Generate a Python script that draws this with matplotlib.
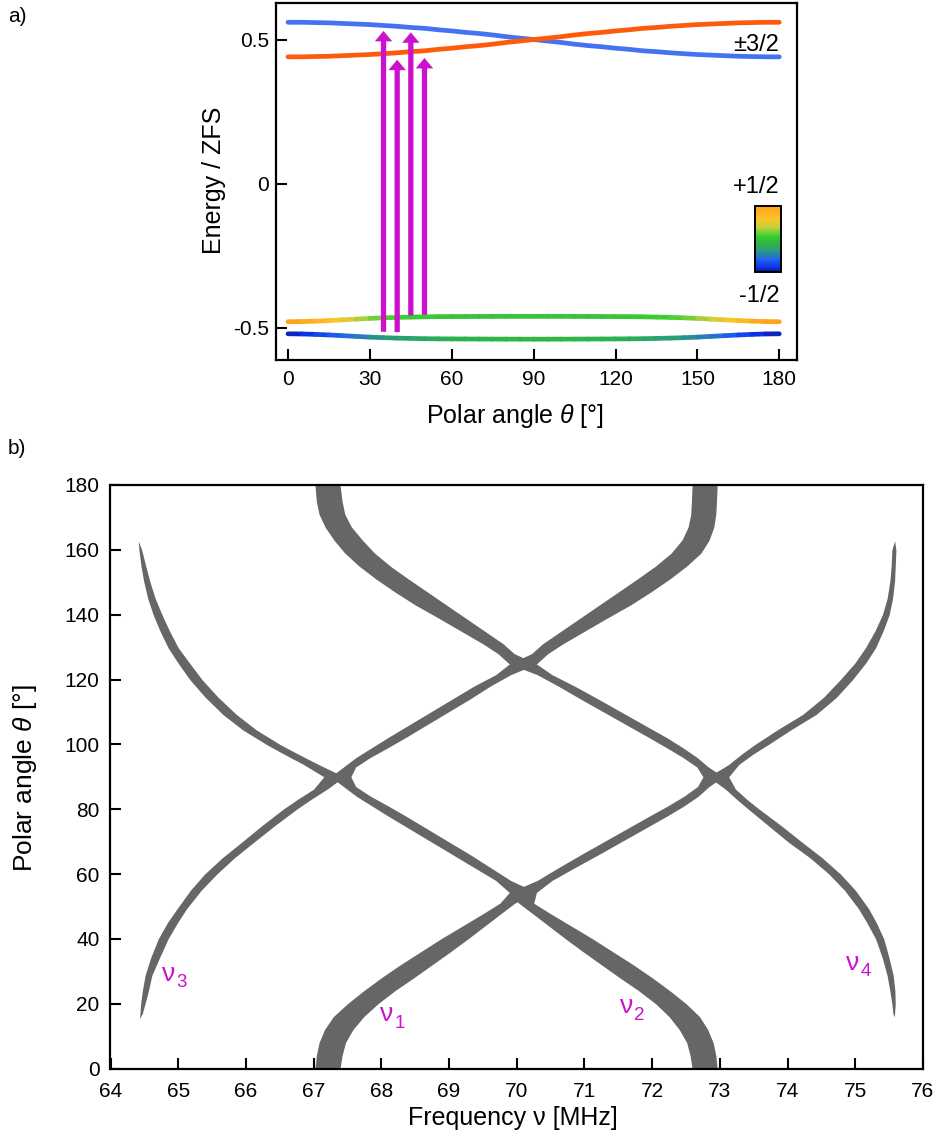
import numpy as np
import matplotlib
matplotlib.use('Agg')
import matplotlib.pyplot as plt
from matplotlib.collections import LineCollection
from matplotlib.colors import LinearSegmentedColormap, Normalize
from matplotlib.patches import FancyArrowPatch
import matplotlib.cm as cm

plt.rcParams['font.family'] = ['Liberation Sans', 'DejaVu Sans']
plt.rcParams['mathtext.fontset'] = 'custom'
plt.rcParams['mathtext.rm'] = 'Liberation Sans'
plt.rcParams['mathtext.it'] = 'Liberation Sans:italic'
plt.rcParams['axes.unicode_minus'] = False

# ---------------- panel a data ----------------
theta_a = list(range(0, 181, 5))
E_blue = [0.561, 0.561, 0.560, 0.559, 0.557, 0.555, 0.553, 0.550, 0.547, 0.543, 0.540,
          0.535, 0.531, 0.526, 0.522, 0.517, 0.511, 0.506, 0.501, 0.496, 0.491, 0.485,
          0.480, 0.476, 0.471, 0.467, 0.462, 0.459, 0.455, 0.452, 0.449, 0.447, 0.445,
          0.443, 0.442, 0.441, 0.441]
E_orange = E_blue[::-1]
E_low_up = [-0.479, -0.4785, -0.477, -0.475, -0.4725, -0.470, -0.4675, -0.4655, -0.464,
            -0.463, -0.462, -0.4615, -0.4612, -0.4610, -0.4608, -0.4606, -0.4605, -0.4604,
            -0.4604, -0.4604, -0.4605, -0.4606, -0.4608, -0.4610, -0.4612, -0.4615, -0.462,
            -0.463, -0.464, -0.4655, -0.4675, -0.470, -0.4725, -0.475, -0.477, -0.4785,
            -0.479]
E_low_dn = [-0.521, -0.5215, -0.523, -0.525, -0.5275, -0.530, -0.5325, -0.5345, -0.536,
            -0.537, -0.538, -0.5385, -0.5388, -0.5390, -0.5392, -0.5394, -0.5395, -0.5396,
            -0.5396, -0.5396, -0.5395, -0.5394, -0.5392, -0.5390, -0.5388, -0.5385, -0.538,
            -0.537, -0.536, -0.5345, -0.5325, -0.530, -0.5275, -0.525, -0.523, -0.5215,
            -0.521]
ms_low_up = [0.50, 0.48, 0.42, 0.34, 0.26, 0.18, 0.12, 0.08, 0.05, 0.03, 0.02, 0.01, 0.0,
             0.0, 0.0, 0.0, 0.0, 0.0, 0.0, 0.0, 0.0, 0.0, 0.0, 0.0, 0.0, 0.01, 0.02, 0.03,
             0.05, 0.08, 0.12, 0.18, 0.26, 0.34, 0.42, 0.48, 0.50]
ms_low_dn = [-0.47, -0.45, -0.41, -0.36, -0.31, -0.26, -0.22, -0.19, -0.16, -0.14, -0.12,
             -0.10, -0.09, -0.08, -0.07, -0.065, -0.06, -0.06, -0.06, -0.06, -0.06, -0.065,
             -0.07, -0.08, -0.09, -0.10, -0.12, -0.14, -0.16, -0.19, -0.22, -0.26, -0.31,
             -0.36, -0.41, -0.45, -0.47]
arrow_theta = [35, 40, 45, 50]
arrow_start = [-0.514, -0.515, -0.457, -0.455]
arrow_end = [0.531, 0.431, 0.526, 0.437]
cbar_colors = ['#0a1478', '#0a30e0', '#2060f0', '#2a9a80', '#30b840', '#3cd030',
               '#c8d040', '#fbc42a', '#ffa21e']
cbar_pos = [0.0, 0.06, 0.18, 0.32, 0.45, 0.55, 0.68, 0.8, 1.0]

# ---------------- panel b data (band edges, MHz) ----------------
nu1_theta = [0, 4, 8, 12, 16, 20, 24, 28, 32, 36, 40, 44, 48, 51, 54.3,
             58, 62, 66, 70, 74, 78, 81, 84, 87, 90,
             93, 96, 99, 102, 106, 110, 114, 118, 121.5, 124.8,
             128, 131, 135, 139, 143, 147, 151, 155, 159, 163, 167, 171, 175, 180]
nu1_left = [67.02, 67.04, 67.08, 67.16, 67.29, 67.50, 67.74, 68.00, 68.28, 68.58, 68.88,
            69.20, 69.52, 69.75, 69.89,
            70.30, 70.62, 70.95, 71.29, 71.63, 71.97, 72.23, 72.47, 72.67, 72.75,
            72.66, 72.45, 72.21, 71.96, 71.62, 71.28, 70.94, 70.61, 70.30, 69.89,
            69.72, 69.50, 69.17, 68.84, 68.50, 68.20, 67.92, 67.67, 67.46, 67.30, 67.17,
            67.08, 67.04, 67.02]
nu1_right = [67.39, 67.42, 67.47, 67.58, 67.74, 67.95, 68.20, 68.48, 68.75, 69.02, 69.28,
             69.53, 69.78, 69.97, 70.29,
             70.52, 70.86, 71.21, 71.55, 71.89, 72.23, 72.47, 72.68, 72.84, 73.05,
             72.83, 72.66, 72.45, 72.22, 71.88, 71.54, 71.20, 70.85, 70.52, 70.29,
             69.96, 69.80, 69.52, 69.24, 68.96, 68.68, 68.40, 68.13, 67.90, 67.72, 67.56,
             67.46, 67.42, 67.39]

nu2_theta = nu1_theta
nu2_left = [72.59, 72.56, 72.51, 72.40, 72.25, 72.05, 71.80, 71.52, 71.25, 70.98, 70.72,
            70.47, 70.22, 70.03, 69.89,
            69.69, 69.37, 69.05, 68.73, 68.41, 68.09, 67.86, 67.63, 67.44, 67.25,
            67.44, 67.63, 67.86, 68.09, 68.41, 68.73, 69.05, 69.37, 69.69, 69.89,
            70.22, 70.38, 70.66, 70.94, 71.22, 71.50, 71.78, 72.05, 72.28, 72.44, 72.53,
            72.57, 72.58, 72.59]
nu2_right = [72.96, 72.94, 72.90, 72.82, 72.70, 72.50, 72.26, 72.00, 71.72, 71.42, 71.12,
             70.80, 70.48, 70.25, 70.29,
             69.91, 69.61, 69.31, 68.99, 68.67, 68.35, 68.10, 67.84, 67.62, 67.55,
             67.62, 67.84, 68.10, 68.35, 68.67, 68.99, 69.31, 69.61, 69.91, 70.29,
             70.46, 70.68, 71.01, 71.34, 71.68, 71.98, 72.26, 72.51, 72.72, 72.84, 72.91,
             72.94, 72.95, 72.96]

nu3_theta = [15.4, 17, 20, 24, 28.7, 34, 40, 45, 49.2, 55, 60, 65, 69.7, 75, 80, 83, 86.2,
             90, 93.8, 97, 100, 104.5, 109.2, 114.5, 120, 125, 129.8, 135, 140, 145, 150.3,
             155, 160, 162.8]
nu3_left = [64.43, 64.435, 64.445, 64.47, 64.51, 64.59, 64.705, 64.84, 64.98, 65.18, 65.39,
            65.65, 65.93, 66.24, 66.55, 66.76, 67.00, 67.15, 66.85, 66.56, 66.30, 65.95,
            65.66, 65.40, 65.17, 65.00, 64.85, 64.73, 64.63, 64.55, 64.49, 64.45, 64.42,
            64.41]
nu3_right = [64.43, 64.47, 64.51, 64.56, 64.61, 64.72, 64.85, 64.99, 65.12, 65.34, 65.57,
             65.83, 66.11, 66.43, 66.75, 66.96, 67.20, 67.45, 67.07, 66.77, 66.50, 66.15,
             65.86, 65.59, 65.35, 65.17, 65.00, 64.87, 64.76, 64.66, 64.58, 64.52, 64.46,
             64.41]

nu4_theta = [15.9, 17, 20, 24, 28.7, 34, 40, 45, 49.2, 55, 60, 65, 69.7, 75, 80, 83, 86.2,
             90, 93.8, 97, 100, 104.5, 109.2, 114.5, 120, 125, 129.8, 135, 140, 145, 150.3,
             155, 160, 162.8]
nu4_left = [75.57, 75.555, 75.54, 75.51, 75.47, 75.40, 75.30, 75.17, 75.05, 74.84, 74.61,
            74.33, 74.02, 73.71, 73.42, 73.25, 73.08, 72.83, 73.13, 73.32, 73.52, 73.85,
            74.22, 74.53, 74.78, 74.99, 75.15, 75.29, 75.40, 75.47, 75.51, 75.53, 75.54,
            75.58]
nu4_right = [75.57, 75.58, 75.59, 75.585, 75.56, 75.50, 75.42, 75.31, 75.20, 75.00, 74.78,
             74.51, 74.22, 73.90, 73.58, 73.40, 73.23, 73.13, 73.28, 73.49, 73.72, 74.05,
             74.42, 74.72, 74.96, 75.15, 75.30, 75.41, 75.50, 75.55, 75.58, 75.59, 75.60,
             75.58]

band_labels = ['1', '2', '3', '4']
label_nu = [67.98, 71.52, 64.76, 74.86]
label_theta = [14.5, 17.0, 27.0, 30.5]

band_color = '#666666'
magenta = '#cc11cc'

W, H = 937, 1137
fig = plt.figure(figsize=(W / 100, H / 100), dpi=100)


def px_axes(l, t, r, b):
    return fig.add_axes([l / W, 1 - b / H, (r - l) / W, (b - t) / H])


def style_axes(ax, size):
    for s in ax.spines.values():
        s.set_linewidth(1.6)
    ax.tick_params(direction='in', length=8, width=1.5, labelsize=size, top=False,
                   right=False)


# ---------------- panel a ----------------
axa = px_axes(276, 3, 797, 360)
axa.set_xlim(-4.4, 186.5)
axa.set_ylim(-0.612, 0.628)
style_axes(axa, 15)
axa.tick_params(axis='x', pad=7)
axa.tick_params(axis='y', pad=5)
axa.set_xticks([0, 30, 60, 90, 120, 150, 180])
axa.set_yticks([-0.5, 0, 0.5])
axa.set_yticklabels(['-0.5', '0', '0.5'])

cmap = LinearSegmentedColormap.from_list('ms', list(zip(cbar_pos, cbar_colors)))
norm = Normalize(-0.5, 0.5)

axa.plot(theta_a, E_blue, color='#4472f0', lw=3.4, solid_capstyle='round', zorder=2)
axa.plot(theta_a, E_orange, color='#ff5a0a', lw=3.4, solid_capstyle='round', zorder=3)

for E, ms in [(E_low_up, ms_low_up), (E_low_dn, ms_low_dn)]:
    pts = np.column_stack([theta_a, E])
    segs = np.stack([pts[:-1], pts[1:]], axis=1)
    vals = 0.5 * (np.array(ms[:-1]) + np.array(ms[1:]))
    lc = LineCollection(segs, colors=cmap(norm(vals)), linewidths=3.4, capstyle='round',
                        zorder=2)
    lc.set_snap(False)
    axa.add_collection(lc)

for th, e0, e1 in zip(arrow_theta, arrow_start, arrow_end):
    arr = FancyArrowPatch((th, e0), (th, e1),
                          arrowstyle='simple,head_length=0.75,head_width=1.25,tail_width=0.38',
                          mutation_scale=10, color=magenta, lw=0, shrinkA=0, shrinkB=0,
                          zorder=5)
    axa.add_patch(arr)

axa.text(180, 0.482, '±3/2', ha='right', va='center', fontsize=17)
axa.text(180, -0.012, '+1/2', ha='right', va='center', fontsize=17)
axa.text(180, -0.39, '-1/2', ha='right', va='center', fontsize=17)

cax = px_axes(755, 206, 781, 272)
cb = fig.colorbar(cm.ScalarMappable(norm=norm, cmap=cmap), cax=cax)
cb.set_ticks([])
cb.outline.set_linewidth(1.4)
cb.outline.set_edgecolor('black')

fig.text(214 / W, 1 - 180 / H, 'Energy / ZFS', rotation=90, ha='center', va='center',
         fontsize=18)
fig.text(515 / W, 1 - 416 / H, r'Polar angle $\mathit{\theta}$ [°]', ha='center',
         va='center', fontsize=18)
fig.text(8 / W, 1 - 16 / H, 'a)', ha='left', va='center', fontsize=15)

# ---------------- panel b ----------------
axb = px_axes(110.5, 485, 923, 1068.5)
axb.set_xlim(64, 76)
axb.set_ylim(0, 180)
style_axes(axb, 15)
axb.tick_params(axis='x', pad=10)
axb.tick_params(axis='y', pad=8)
axb.set_xticks(range(64, 77))
axb.set_yticks(range(0, 181, 20))

for th, l, r in [(nu1_theta, nu1_left, nu1_right), (nu2_theta, nu2_left, nu2_right),
                 (nu3_theta, nu3_left, nu3_right), (nu4_theta, nu4_left, nu4_right)]:
    axb.fill_betweenx(th, l, r, color=band_color, lw=0)

for lab, x, y in zip(band_labels, label_nu, label_theta):
    axb.text(x, y, 'ν', color=magenta, fontsize=19, ha='left', va='baseline')
    axb.annotate(lab, xy=(x, y), xytext=(10.5, -4.5), textcoords='offset points',
                 color=magenta, fontsize=13.5, ha='left', va='baseline')

fig.text(25 / W, 1 - 778 / H, r'Polar angle $\mathit{\theta}$ [°]', rotation=90,
         ha='center', va='center', fontsize=19)
fig.text(513 / W, 1 - 1118 / H, 'Frequency ν [MHz]', ha='center', va='center', fontsize=18)
fig.text(8 / W, 1 - 448 / H, 'b)', ha='left', va='center', fontsize=15)

fig.savefig('out.png', dpi=100)
